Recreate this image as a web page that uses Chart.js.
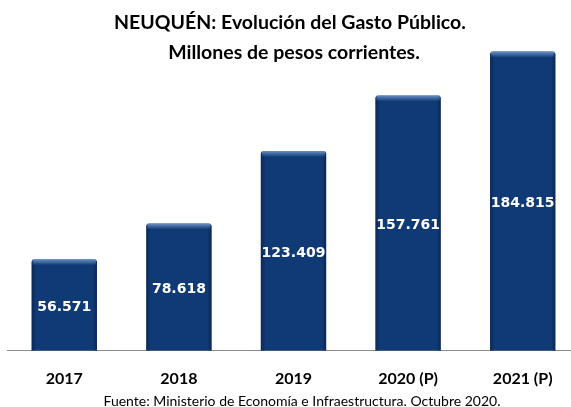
<!DOCTYPE html>
<html><head><meta charset="utf-8">
<script src="https://cdn.jsdelivr.net/npm/chart.js@4"></script>
<style>
html,body{margin:0;padding:0;background:#fff;overflow:hidden;width:571px;height:407px;}
#wrap{position:absolute;left:0;top:0;width:580px;height:407px;}
.t{position:absolute;left:0;width:580px;text-align:center;font-family:Lato,sans-serif;color:#000;white-space:nowrap;}
#t1{top:10px;font-weight:bold;font-size:19.5px;line-height:24px;}
#t2{top:40px;font-weight:bold;font-size:19.5px;line-height:24px;left:4px;}
#src{top:393px;font-size:14px;line-height:16px;left:12px;}
</style></head>
<body>
<div id="wrap"><canvas id="c" width="580" height="407"></canvas></div>
<div class="t" id="t1">NEUQUÉN: Evolución del Gasto Público.</div>
<div class="t" id="t2">Millones de pesos corrientes.</div>
<div class="t" id="src">Fuente: Ministerio de Economía e Infraestructura. Octubre 2020.</div>
<script>
const categories = ["2017", "2018", "2019", "2020 (P)", "2021 (P)"];
const gasto = [56571, 78618, 123409, 157761, 184815];

function fmt(v){ return String(v).replace(/\B(?=(\d{3})+(?!\d))/g, "."); }

const barLabels = {
  id: 'barLabels',
  afterDatasetsDraw(chart){
    const ctx = chart.ctx;
    const meta = chart.getDatasetMeta(0);
    meta.data.forEach((bar, i) => {
      const w = bar.width, x0 = bar.x - w/2, top = bar.y, h = bar.base - bar.y;
      ctx.save();
      const gs = ctx.createLinearGradient(x0, 0, x0 + w, 0);
      gs.addColorStop(0, 'rgba(5,25,60,0.55)');
      gs.addColorStop(0.07, 'rgba(5,25,60,0)');
      gs.addColorStop(0.93, 'rgba(5,25,60,0)');
      gs.addColorStop(1, 'rgba(5,25,60,0.55)');
      ctx.fillStyle = gs;
      ctx.fillRect(x0, top + 2, w, h - 2);
      const g = ctx.createLinearGradient(0, top, 0, top + 6);
      g.addColorStop(0, 'rgba(120,160,210,0.85)');
      g.addColorStop(1, 'rgba(120,160,210,0)');
      ctx.fillStyle = g;
      ctx.fillRect(x0 + 1, top, w - 2, 6);
      ctx.restore();
      ctx.save();
      ctx.fillStyle = '#ffffff';
      ctx.font = 'bold 14px "DejaVu Sans", sans-serif';
      ctx.textAlign = 'center';
      ctx.textBaseline = 'middle';
      ctx.fillText(fmt(gasto[i]), bar.x, (bar.y + bar.base) / 2 + 2);
      ctx.restore();
    });
  }
};

new Chart(document.getElementById('c'), {
  type: 'bar',
  data: {
    labels: categories,
    datasets: [{
      data: gasto,
      backgroundColor: '#103a75',
      borderWidth: 0,
      borderRadius: {topLeft: 3, topRight: 3, bottomLeft: 0, bottomRight: 0},
      borderSkipped: 'bottom',
      barPercentage: 0.57,
      categoryPercentage: 1.0
    }]
  },
  options: {
    responsive: false,
    animation: false,
    events: [],
    layout: { padding: { top: 27, left: 7, right: 0, bottom: 1 } },
    plugins: { legend: { display: false }, tooltip: { enabled: false }, title: { display: false } },
    scales: {
      x: {
        grid: { display: false, drawTicks: false },
        border: { display: true, color: '#8c8c8c', width: 1 },
        ticks: { color: '#000', padding: 18, font: { family: 'Lato', weight: 'bold', size: 16 } }
      },
      y: { display: false, min: 0, max: 200000 }
    }
  },
  plugins: [barLabels]
});
</script>
</body></html>
